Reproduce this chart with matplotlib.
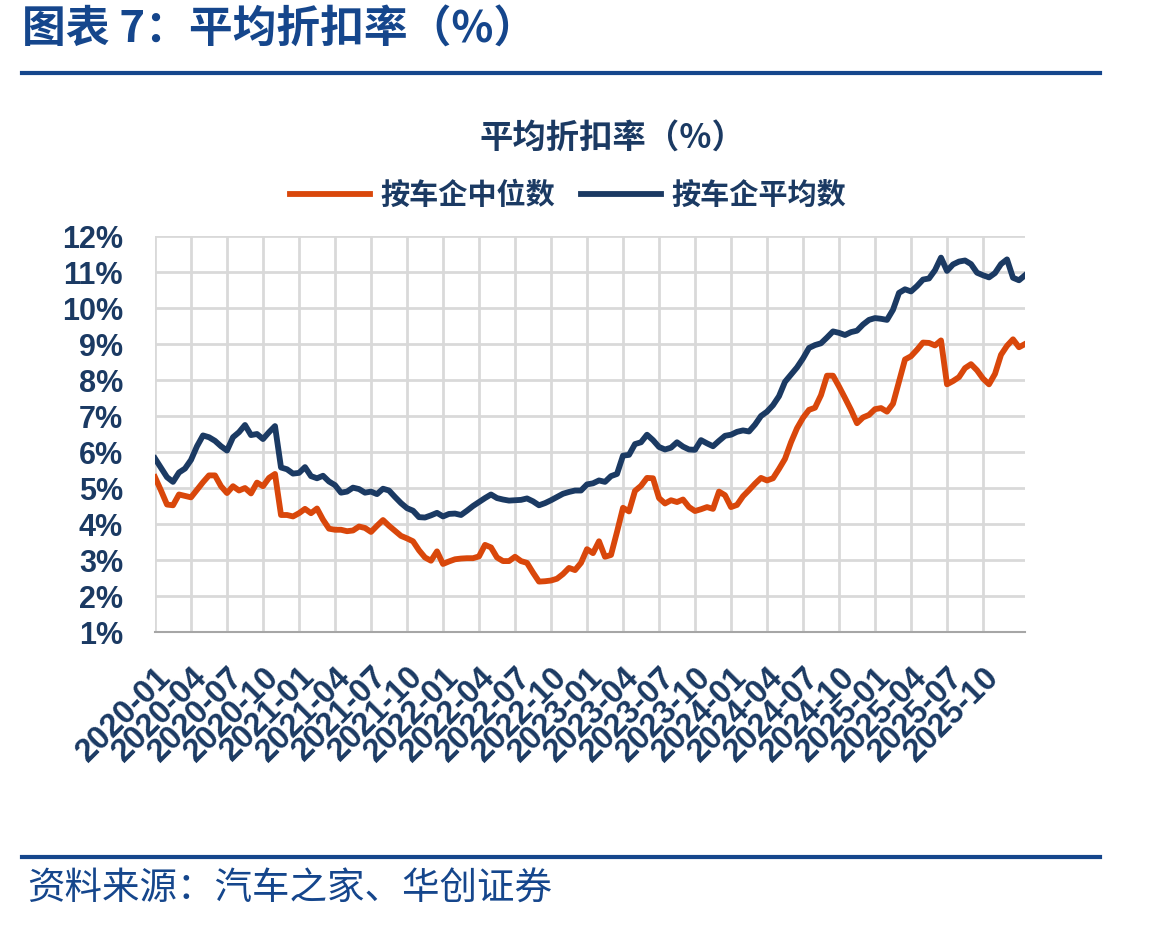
import matplotlib
matplotlib.use("Agg")
import matplotlib.pyplot as plt
from matplotlib.lines import Line2D
import numpy as np

plt.rcParams["font.family"] = ["Noto Sans CJK SC", "DejaVu Sans"]

# 半月度数据，2020-01 起
median_vals = [
    5.30, 4.93, 4.54, 4.52, 4.82, 4.78, 4.74, 4.95, 5.16, 5.35,
    5.35, 5.05, 4.86, 5.05, 4.93, 5.00, 4.85, 5.15, 5.05, 5.28,
    5.39, 4.25, 4.25, 4.21, 4.30, 4.42, 4.30, 4.43, 4.12, 3.87,
    3.84, 3.84, 3.80, 3.82, 3.93, 3.89, 3.78, 3.95, 4.11, 3.95,
    3.81, 3.67, 3.60, 3.52, 3.27, 3.07, 2.98, 3.24, 2.89, 2.96,
    3.02, 3.04, 3.05, 3.05, 3.10, 3.42, 3.35, 3.07, 2.97, 2.97,
    3.09, 2.97, 2.92, 2.65, 2.40, 2.41, 2.43, 2.48, 2.61, 2.78,
    2.72, 2.92, 3.30, 3.19, 3.52, 3.09, 3.14, 3.78, 4.45, 4.35,
    4.92, 5.06, 5.28, 5.27, 4.72, 4.57, 4.66, 4.61, 4.68, 4.47,
    4.36, 4.41, 4.47, 4.42, 4.90, 4.80, 4.47, 4.53, 4.77, 4.94,
    5.12, 5.28, 5.21, 5.27, 5.53, 5.81, 6.27, 6.66, 6.95, 7.17,
    7.23, 7.58, 8.12, 8.12, 7.82, 7.50, 7.17, 6.80, 6.96, 7.03,
    7.19, 7.22, 7.12, 7.34, 7.96, 8.57, 8.66, 8.84, 9.04, 9.03,
    8.96, 9.10, 7.88, 7.97, 8.08, 8.33, 8.44, 8.27, 8.04, 7.88,
    8.17, 8.70, 8.95, 9.13, 8.91, 9.00,
]
mean_vals = [
    5.82, 5.56, 5.30, 5.17, 5.43, 5.54, 5.78, 6.16, 6.46, 6.41,
    6.31, 6.16, 6.04, 6.41, 6.55, 6.75, 6.47, 6.50, 6.36, 6.55,
    6.72, 5.57, 5.52, 5.40, 5.42, 5.58, 5.33, 5.27, 5.34, 5.18,
    5.08, 4.87, 4.90, 5.01, 4.97, 4.87, 4.90, 4.83, 4.98, 4.93,
    4.75, 4.58, 4.44, 4.37, 4.19, 4.18, 4.24, 4.31, 4.21, 4.28,
    4.29, 4.25, 4.37, 4.50, 4.61, 4.72, 4.82, 4.72, 4.68, 4.65,
    4.66, 4.67, 4.71, 4.63, 4.52, 4.58, 4.66, 4.75, 4.84, 4.89,
    4.93, 4.93, 5.10, 5.13, 5.21, 5.17, 5.33, 5.39, 5.90, 5.92,
    6.22, 6.27, 6.48, 6.33, 6.14, 6.07, 6.12, 6.27, 6.15, 6.07,
    6.06, 6.33, 6.24, 6.16, 6.31, 6.45, 6.48, 6.56, 6.60, 6.57,
    6.76, 7.00, 7.12, 7.30, 7.55, 7.95, 8.15, 8.35, 8.60, 8.89,
    8.97, 9.02, 9.18, 9.35, 9.31, 9.25, 9.33, 9.37, 9.54, 9.67,
    9.72, 9.70, 9.67, 9.95, 10.42, 10.52, 10.46, 10.61, 10.79, 10.82,
    11.05, 11.40, 11.03, 11.21, 11.29, 11.32, 11.22, 10.98, 10.91, 10.85,
    10.97, 11.22, 11.35, 10.84, 10.77, 10.91,
]
tick_labels = [f"{y}-{m:02d}" for y in range(2020, 2026) for m in (1, 4, 7, 10)]

navy = "#1B3A63"
orange = "#D9470B"
blue_dark = "#15468C"

fig = plt.figure(figsize=(11.59, 9.26), dpi=100)

fig.text(22 / 1159, 1 - 30 / 926, "图表 7：平均折扣率（%）", fontsize=31.5, fontweight="bold",
         color=blue_dark, va="center", ha="left")
fig.add_artist(Line2D([22 / 1159, 1100 / 1159], [1 - 73 / 926, 1 - 73 / 926], color=blue_dark, lw=3))
fig.add_artist(Line2D([22 / 1159, 1100 / 1159], [1 - 857 / 926, 1 - 857 / 926], color=blue_dark, lw=3))
fig.text(27 / 1159, 1 - 889 / 926, "资料来源：汽车之家、华创证券", fontsize=27, style="italic",
         color=blue_dark, va="center", ha="left")

ax = fig.add_axes([155 / 1159, 1 - 632 / 926, 870 / 1159, 396 / 926])
x = np.arange(len(mean_vals))
ax.plot(x, median_vals, color=orange, lw=4.2, label="按车企中位数", solid_joinstyle="round")
ax.plot(x, mean_vals, color=navy, lw=4.2, label="按车企平均数", solid_joinstyle="round")

ax.set_xlim(0, len(mean_vals) - 1)
ax.set_ylim(1, 12)
ax.set_yticks(range(1, 13))
ax.set_yticklabels([f"{v}%" for v in range(1, 13)])
ax.set_xticks(np.arange(0, len(tick_labels) * 6, 6))
ax.set_xticklabels(tick_labels, rotation=45, ha="right", rotation_mode="anchor")
ax.grid(True, color="#D9D9D9", lw=2)
ax.set_axisbelow(True)
for s in ["top", "right", "left"]:
    ax.spines[s].set_visible(False)
ax.spines["bottom"].set_color("#A6A6A6")
ax.spines["bottom"].set_linewidth(1.5)
ax.tick_params(length=0, colors=navy)
ax.tick_params(axis="y", pad=23)
ax.tick_params(axis="x", pad=21)
for lab in ax.get_yticklabels():
    lab.set_fontsize(22)
for lab in ax.get_xticklabels():
    lab.set_fontsize(23.5)
for lab in ax.get_xticklabels() + ax.get_yticklabels():
    lab.set_fontfamily("Liberation Sans")
    lab.set_fontweight("bold")
    lab.set_color(navy)

fig.text(612 / 1159, 1 - 138 / 926, "平均折扣率（%）", fontsize=24, fontweight="bold",
         color=navy, ha="center", va="center")
leg = ax.legend(loc="center", bbox_to_anchor=(568 / 1159, 1 - 195 / 926), bbox_transform=fig.transFigure,
                ncol=2, frameon=False, handlelength=2.75, columnspacing=0.9, handletextpad=0.35,
                prop={"size": 21, "weight": "bold"})
for t in leg.get_texts():
    t.set_color(navy)

fig.savefig("out.png", dpi=100)
